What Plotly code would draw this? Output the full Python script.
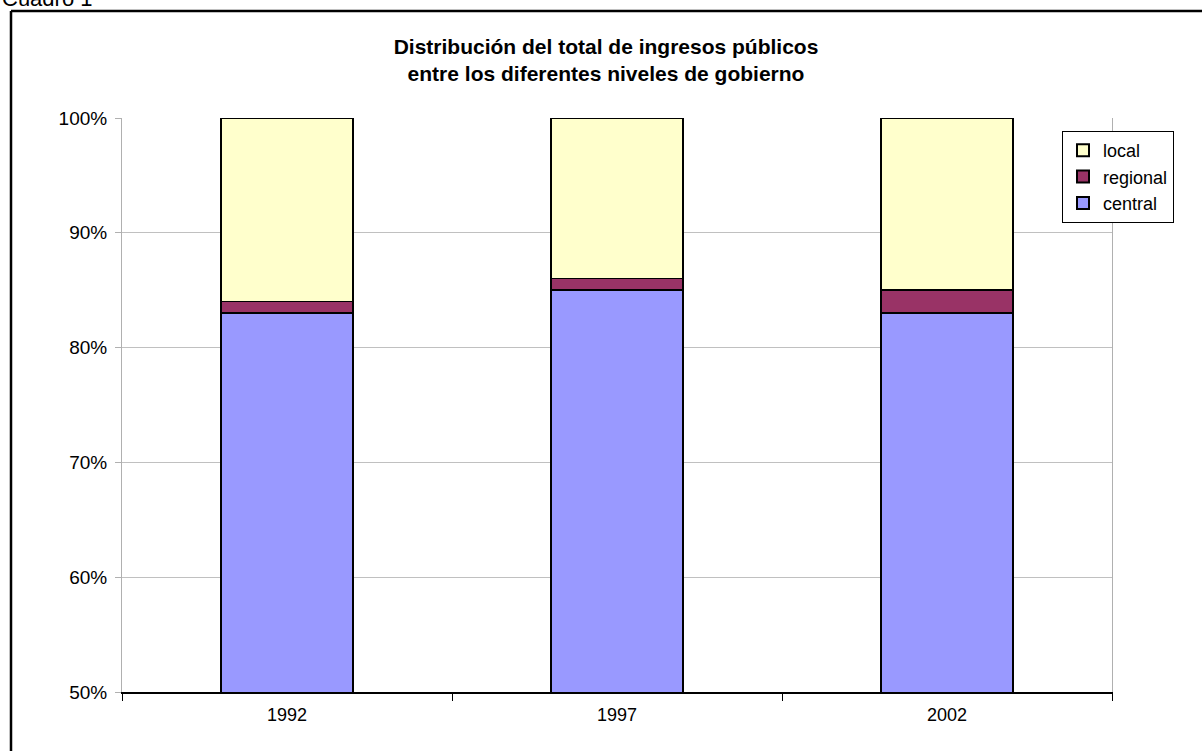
import plotly.graph_objects as go

years = ["1992", "1997", "2002"]
central = [83, 85, 83]
regional = [1, 1, 2]
local = [16, 14, 15]
y_ticks = [50, 60, 70, 80, 90, 100]
y_tick_labels = ["50%", "60%", "70%", "80%", "90%", "100%"]

FONT = "Liberation Sans, Arial, sans-serif"

fig = go.Figure()
for name, vals, color in [
    ("central", central, "#9999FF"),
    ("regional", regional, "#993366"),
    ("local", local, "#FFFFCC"),
]:
    fig.add_trace(go.Bar(
        x=years, y=vals, name=name,
        marker=dict(color=color, line=dict(color="black", width=1.5)),
        width=0.4,
    ))

W, H = 1202, 751
L, R, T, B = 122, 90, 118, 59
pw, ph = W - L - R, H - T - B


def px(x):
    return (x - L) / pw


def py(y):
    return (H - B - y) / ph


fig.update_layout(
    width=W, height=H,
    margin=dict(l=L, r=R, t=T, b=B, pad=0),
    barmode="stack",
    paper_bgcolor="white",
    plot_bgcolor="white",
    font=dict(family=FONT, size=18, color="black"),
    title=dict(
        text="<b>Distribución del total de ingresos públicos<br>entre los diferentes niveles de gobierno</b>",
        x=px(606), xref="paper", xanchor="center",
        y=1 - 54 / H, yanchor="top",
        font=dict(family=FONT, size=21, color="black"),
    ),
    legend=dict(
        x=px(1062), y=py(131), xanchor="left", yanchor="top",
        traceorder="reversed",
        bgcolor="white", bordercolor="black", borderwidth=1,
        font=dict(family=FONT, size=18, color="black"),
        itemsizing="constant", itemwidth=30,
        tracegroupgap=0,
    ),
    bargap=0.6,
    showlegend=True,
)

fig.update_xaxes(
    type="category",
    showline=True, linecolor="black", linewidth=1.5,
    ticks="outside", tickson="boundaries", ticklen=7, tickcolor="black", tickwidth=1,
    showgrid=False,
    ticklabelstandoff=6,
    tickfont=dict(family=FONT, size=18, color="black"),
)
fig.update_yaxes(
    range=[50, 100],
    tickvals=y_ticks, ticktext=y_tick_labels,
    showline=True, linecolor="#b0b0b0", linewidth=1, mirror=True,
    ticks="outside", ticklen=6, tickcolor="#b0b0b0",
    showgrid=True, gridcolor="#c0c0c0", gridwidth=1,
    zeroline=False,
    ticklabelstandoff=4,
    tickfont=dict(family=FONT, size=19, color="black"),
)

# Outer frame around the chart (top and left edges)
fig.add_shape(type="line", xref="paper", yref="paper",
              x0=px(11), x1=px(W + 5), y0=py(11), y1=py(11),
              line=dict(color="black", width=2.5))
fig.add_shape(type="line", xref="paper", yref="paper",
              x0=px(11), x1=px(11), y0=py(11), y1=py(H + 5),
              line=dict(color="black", width=2.5))

fig.add_annotation(
    text="Cuadro 1", xref="paper", yref="paper",
    x=px(0), y=py(13), xanchor="left", yanchor="bottom",
    showarrow=False, font=dict(family=FONT, size=22, color="black"),
)

fig.write_html("out.html")
